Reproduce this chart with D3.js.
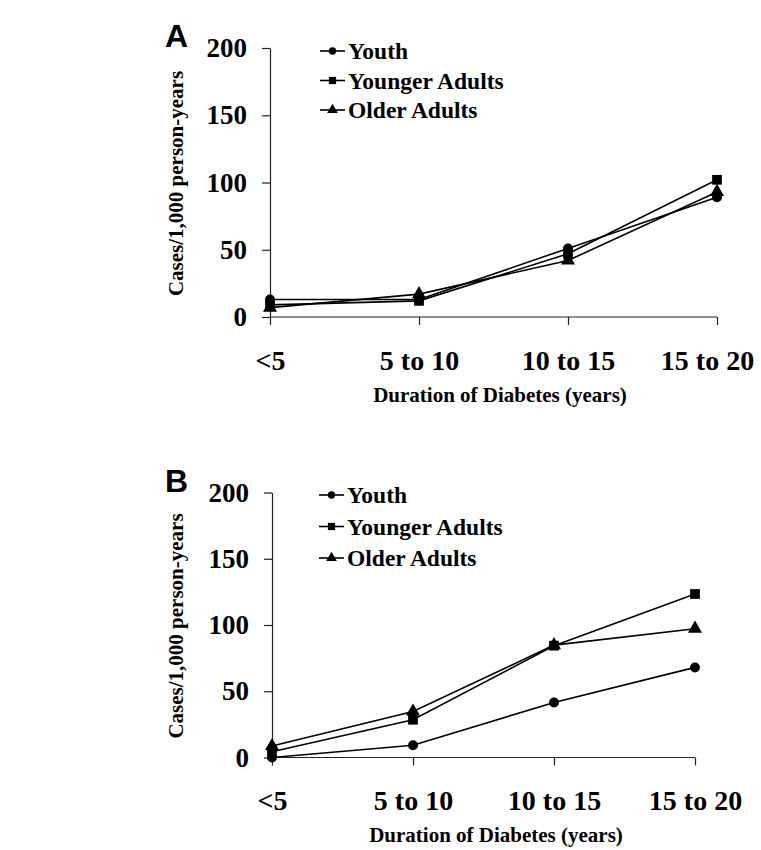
<!DOCTYPE html>
<html>
<head>
<meta charset="utf-8">
<script src="https://cdn.jsdelivr.net/npm/d3@7"></script>
<style>
  body { margin: 0; background: #fff; }
  text { font-family: "Liberation Serif", "Times New Roman", serif; font-weight: bold; fill: #000; }
</style>
</head>
<body>
<div id="chart"></div>
<script>
// durations (x categories)
const categories = ["<5", "5 to 10", "10 to 15", "15 to 20"];
const seriesNames = ["Youth", "Younger Adults", "Older Adults"];
const yTicks = [0, 50, 100, 150, 200];

// panel A values, cases per 1,000 person-years
const youthA = [13, 13, 51, 89];
const youngerA = [9, 12, 47, 102];
const olderA = [7, 17, 42, 93];

// panel B values
const youthB = [0, 9.3, 41.5, 68];
const youngerB = [4.4, 28.5, 84.4, 123.4];
const olderB = [8.7, 34.7, 84.8, 97.2];

const W = 761, H = 850;
const svg = d3.select("#chart").append("svg")
  .attr("width", W)
  .attr("height", H);

const symbols = [d3.symbolCircle, d3.symbolSquare, d3.symbolTriangle];
const plotSizes = [78, 95, 85];
const legendSizes = [42, 52, 50];

function drawPanel(label, values, box) {
  const g = svg.append("g");

  const x = d3.scalePoint().domain(categories).range([box.x0, box.x1]);
  const y = d3.scaleLinear().domain([0, 200]).range([box.y0, box.y1]);

  // y axis
  const ya = g.append("g")
    .attr("transform", `translate(${box.x0},0)`)
    .call(d3.axisLeft(y).tickValues(yTicks).tickSize(8).tickPadding(15).tickSizeOuter(0));
  ya.selectAll("text")
    .style("font-size", "27px")
    .attr("font-family", null);
  ya.selectAll("line, path").attr("stroke", "#222").attr("stroke-width", 1.2);

  // x axis
  const xa = g.append("g")
    .attr("transform", `translate(0,${box.y0})`)
    .call(d3.axisBottom(x).tickSize(8).tickPadding(25).tickSizeOuter(0));
  xa.selectAll("text")
    .style("font-size", "28px")
    .attr("font-family", null);
  // last label sits tight against the right edge in panel A
  xa.selectAll(".tick text")
    .filter(d => d === categories[categories.length - 1])
    .attr("dx", box.lastShift);
  xa.selectAll("line, path").attr("stroke", "#222").attr("stroke-width", 1.2);
  xa.select(".domain").attr("d", `M${box.x0},0H${box.x1}`);

  // axis titles
  g.append("text")
    .attr("x", box.titleX)
    .attr("y", box.y0 + 84.5)
    .attr("text-anchor", "middle")
    .style("font-size", "21px")
    .text("Duration of Diabetes (years)");

  g.append("text")
    .attr("transform", `translate(183,${(box.y0 + box.y1) / 2 + 1}) rotate(-90)`)
    .attr("text-anchor", "middle")
    .style("font-size", "21px")
    .text("Cases/1,000 person-years");

  // panel letter
  g.append("text")
    .attr("x", 165)
    .attr("y", box.y1 - 1)
    .style("font-family", "'Liberation Sans', Arial, sans-serif")
    .style("font-size", "32px")
    .text(label);

  // lines + markers
  const line = d3.line()
    .x((d, i) => x(categories[i]))
    .y(d => y(d));

  values.forEach((vals) => {
    g.append("path")
      .datum(vals)
      .attr("fill", "none")
      .attr("stroke", "#000")
      .attr("stroke-width", 1.6)
      .attr("d", line);
  });

  values.forEach((vals, s) => {
    g.selectAll(null)
      .data(vals)
      .join("path")
      .attr("transform", (d, i) => `translate(${x(categories[i])},${y(d)})`)
      .attr("d", d3.symbol().type(symbols[s]).size(plotSizes[s]))
      .attr("fill", "#000");
  });

  // legend
  const leg = g.append("g").attr("transform", `translate(${box.legX},${box.legY})`);
  seriesNames.forEach((name, s) => {
    const row = leg.append("g").attr("transform", `translate(0,${s * box.legStep})`);
    row.append("line")
      .attr("x1", 0).attr("x2", 25)
      .attr("stroke", "#000").attr("stroke-width", 1.6);
    row.append("path")
      .attr("transform", "translate(12.5,0)")
      .attr("d", d3.symbol().type(symbols[s]).size(legendSizes[s]))
      .attr("fill", "#000");
    row.append("text")
      .attr("x", 28)
      .attr("dy", "0.34em")
      .style("font-size", "23.5px")
      .text(name);
  });
}

drawPanel("A", [youthA, youngerA, olderA],
  { x0: 270, x1: 717, y0: 317, y1: 48, titleX: 500, lastShift: -10, legX: 320, legY: 51, legStep: 29.5 });
drawPanel("B", [youthB, youngerB, olderB],
  { x0: 272, x1: 695, y0: 757.5, y1: 492.5, titleX: 496, lastShift: 0, legX: 319, legY: 495, legStep: 31.5 });
</script>
</body>
</html>
